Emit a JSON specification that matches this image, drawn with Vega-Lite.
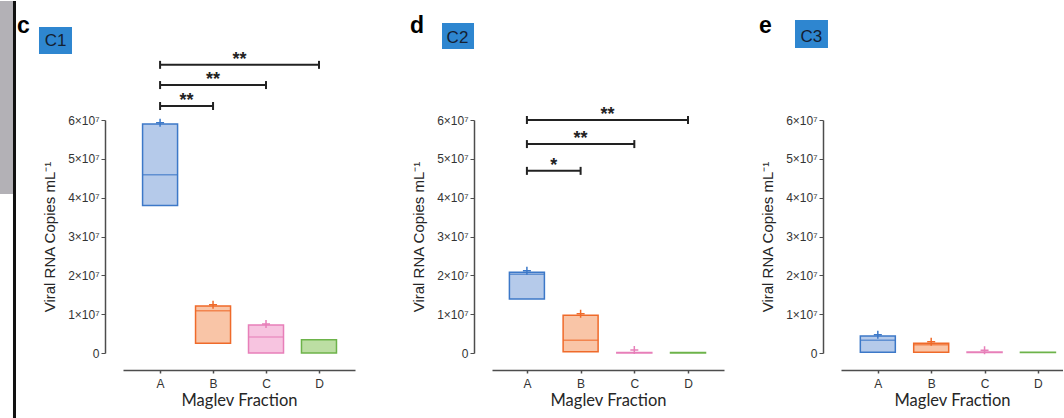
{
  "$schema": "https://vega.github.io/schema/vega-lite/v6.json",
  "padding": 0,
  "autosize": {"type": "pad"},
  "background": "#ffffff",
  "config": {
    "font": "Liberation Sans",
    "view": {"stroke": null},
    "scale": {"continuousPadding": 0},
    "axis": {"grid": false, "domainColor": "#4d4d4d", "tickColor": "#4d4d4d", "labelColor": "#333333", "titleColor": "#262626", "titleFontWeight": "normal"},
    "axisX": {"offset": 17, "domainWidth": 1.5, "tickWidth": 1.5, "tickSize": 3, "labelFontSize": 12, "labelPadding": 5, "labelAngle": 0, "titleFont": "Lato", "titleFontSize": 16.5, "titlePadding": 3},
    "axisY": {"offset": 18, "domainWidth": 1.5, "tickWidth": 1, "tickSize": 4, "labelFontSize": 12, "labelPadding": 2, "titleFontSize": 15, "titlePadding": 10}
  },
  "datasets": {
    "boxes": [
      {"panel": "C1", "frac": "A", "idx": 1, "lo": 38000000, "hi": 59000000, "med": 45900000, "top": 59300000},
      {"panel": "C1", "frac": "B", "idx": 2, "lo": 2500000, "hi": 12100000, "med": 10900000, "top": 12400000},
      {"panel": "C1", "frac": "C", "idx": 3, "lo": 0, "hi": 7200000, "med": 4100000, "top": 7500000},
      {"panel": "C1", "frac": "D", "idx": 4, "lo": 0, "hi": 3400000, "med": null, "top": null},
      {"panel": "C2", "frac": "A", "idx": 1, "lo": 13900000, "hi": 20800000, "med": 20300000, "top": 21200000},
      {"panel": "C2", "frac": "B", "idx": 2, "lo": 300000, "hi": 9700000, "med": 3300000, "top": 10100000},
      {"panel": "C2", "frac": "C", "idx": 3, "lo": 0, "hi": 150000, "med": null, "top": 800000},
      {"panel": "C2", "frac": "D", "idx": 4, "lo": 0, "hi": 150000, "med": null, "top": null},
      {"panel": "C3", "frac": "A", "idx": 1, "lo": 200000, "hi": 4400000, "med": 3300000, "top": 4700000},
      {"panel": "C3", "frac": "B", "idx": 2, "lo": 200000, "hi": 2500000, "med": 2100000, "top": 2900000},
      {"panel": "C3", "frac": "C", "idx": 3, "lo": 100000, "hi": 250000, "med": null, "top": 700000},
      {"panel": "C3", "frac": "D", "idx": 4, "lo": 100000, "hi": 200000, "med": null, "top": null}
    ],
    "brackets": [
      {"panel": "C1", "bid": 1, "from": 1, "to": 2, "y": 63600000, "label": "**"},
      {"panel": "C1", "bid": 2, "from": 1, "to": 3, "y": 69000000, "label": "**"},
      {"panel": "C1", "bid": 3, "from": 1, "to": 4, "y": 74200000, "label": "**"},
      {"panel": "C2", "bid": 1, "from": 1, "to": 2, "y": 46900000, "label": "*"},
      {"panel": "C2", "bid": 2, "from": 1, "to": 3, "y": 53800000, "label": "**"},
      {"panel": "C2", "bid": 3, "from": 1, "to": 4, "y": 60000000, "label": "**"}
    ]
  },
  "spacing": 35,
  "hconcat": [
    {
      "spacing": 54,
      "hconcat": [
        {
          "width": 232,
          "height": 233,
          "layer": [
            {
              "data": {"name": "boxes"},
              "transform": [{"filter": "datum.panel === 'C1'"}],
              "mark": {"type": "bar", "width": 35, "strokeWidth": 1.5},
              "encoding": {
                "x": {"field": "idx", "type": "quantitative", "scale": {"domain": [0.3, 4.68], "nice": false, "zero": false}, "axis": {"values": [1, 2, 3, 4], "labelExpr": "['A','B','C','D'][datum.value - 1]", "title": "Maglev Fraction"}},
                "y": {"field": "lo", "type": "quantitative", "scale": {"domain": [0, 60000000], "nice": false}, "axis": {"values": [0, 10000000, 20000000, 30000000, 40000000, 50000000, 60000000], "labelExpr": "datum.value == 0 ? '0' : format(datum.value / 10000000, 'd') + '×10⁷'", "title": "Viral RNA Copies mL⁻¹"}},
                "y2": {"field": "hi"},
                "fill": {"field": "frac", "type": "nominal", "scale": {"domain": ["A", "B", "C", "D"], "range": ["#b5caea", "#f9c5a7", "#f7c4e0", "#bcdea3"]}, "legend": null},
                "stroke": {"field": "frac", "type": "nominal", "scale": {"domain": ["A", "B", "C", "D"], "range": ["#3c78c8", "#ef6a2a", "#e77fb9", "#6db34a"]}, "legend": null}
              }
            },
            {
              "data": {"name": "boxes"},
              "transform": [{"filter": "datum.panel === 'C1'"}],
              "mark": {"type": "tick", "orient": "horizontal", "size": 35, "thickness": 1.5},
              "encoding": {
                "x": {"field": "idx", "type": "quantitative", "scale": {"domain": [0.3, 4.68], "nice": false, "zero": false}, "axis": {"values": [1, 2, 3, 4], "labelExpr": "['A','B','C','D'][datum.value - 1]", "title": "Maglev Fraction"}},
                "y": {"field": "med", "type": "quantitative", "scale": {"domain": [0, 60000000], "nice": false}, "axis": {"values": [0, 10000000, 20000000, 30000000, 40000000, 50000000, 60000000], "labelExpr": "datum.value == 0 ? '0' : format(datum.value / 10000000, 'd') + '×10⁷'", "title": "Viral RNA Copies mL⁻¹"}},
                "color": {"field": "frac", "type": "nominal", "scale": {"domain": ["A", "B", "C", "D"], "range": ["#3c78c8", "#ef6a2a", "#e77fb9", "#6db34a"]}, "legend": null}
              }
            },
            {
              "data": {"name": "boxes"},
              "transform": [{"filter": "datum.panel === 'C1'"}],
              "mark": {"type": "point", "shape": "M-1,0H1M0,-1V1", "size": 64, "strokeWidth": 1.5, "filled": false, "opacity": 1},
              "encoding": {
                "x": {"field": "idx", "type": "quantitative", "scale": {"domain": [0.3, 4.68], "nice": false, "zero": false}, "axis": {"values": [1, 2, 3, 4], "labelExpr": "['A','B','C','D'][datum.value - 1]", "title": "Maglev Fraction"}},
                "y": {"field": "top", "type": "quantitative", "scale": {"domain": [0, 60000000], "nice": false}, "axis": {"values": [0, 10000000, 20000000, 30000000, 40000000, 50000000, 60000000], "labelExpr": "datum.value == 0 ? '0' : format(datum.value / 10000000, 'd') + '×10⁷'", "title": "Viral RNA Copies mL⁻¹"}},
                "color": {"field": "frac", "type": "nominal", "scale": {"domain": ["A", "B", "C", "D"], "range": ["#3c78c8", "#ef6a2a", "#e77fb9", "#6db34a"]}, "legend": null}
              }
            },
            {
              "data": {"name": "brackets"},
              "transform": [{"filter": "datum.panel === 'C1'"}],
              "mark": {"type": "rule", "strokeWidth": 2, "color": "#222222"},
              "encoding": {
                "x": {"field": "from", "type": "quantitative", "scale": {"domain": [0.3, 4.68], "nice": false, "zero": false}, "axis": {"values": [1, 2, 3, 4], "labelExpr": "['A','B','C','D'][datum.value - 1]", "title": "Maglev Fraction"}},
                "x2": {"field": "to"},
                "y": {"field": "y", "type": "quantitative", "scale": {"domain": [0, 60000000], "nice": false}, "axis": {"values": [0, 10000000, 20000000, 30000000, 40000000, 50000000, 60000000], "labelExpr": "datum.value == 0 ? '0' : format(datum.value / 10000000, 'd') + '×10⁷'", "title": "Viral RNA Copies mL⁻¹"}}
              }
            },
            {
              "data": {"name": "brackets"},
              "transform": [{"filter": "datum.panel === 'C1'"}, {"fold": ["from", "to"], "as": ["end", "pos"]}],
              "mark": {"type": "point", "shape": "M0,-1V1", "size": 64, "strokeWidth": 2, "filled": false, "opacity": 1, "color": "#222222"},
              "encoding": {
                "x": {"field": "pos", "type": "quantitative", "scale": {"domain": [0.3, 4.68], "nice": false, "zero": false}, "axis": {"values": [1, 2, 3, 4], "labelExpr": "['A','B','C','D'][datum.value - 1]", "title": "Maglev Fraction"}},
                "y": {"field": "y", "type": "quantitative", "scale": {"domain": [0, 60000000], "nice": false}, "axis": {"values": [0, 10000000, 20000000, 30000000, 40000000, 50000000, 60000000], "labelExpr": "datum.value == 0 ? '0' : format(datum.value / 10000000, 'd') + '×10⁷'", "title": "Viral RNA Copies mL⁻¹"}}
              }
            },
            {
              "data": {"name": "brackets"},
              "transform": [{"filter": "datum.panel === 'C1'"}, {"fold": ["from", "to"], "as": ["end", "pos"]}, {"aggregate": [{"op": "mean", "field": "pos", "as": "mid"}], "groupby": ["bid", "y", "label"]}],
              "mark": {"type": "text", "fontSize": 18, "fontWeight": "bold", "color": "#222222", "align": "center", "baseline": "alphabetic"},
              "encoding": {
                "x": {"field": "mid", "type": "quantitative", "scale": {"domain": [0.3, 4.68], "nice": false, "zero": false}, "axis": {"values": [1, 2, 3, 4], "labelExpr": "['A','B','C','D'][datum.value - 1]", "title": "Maglev Fraction"}},
                "y": {"field": "y", "type": "quantitative", "scale": {"domain": [0, 60000000], "nice": false}, "axis": {"values": [0, 10000000, 20000000, 30000000, 40000000, 50000000, 60000000], "labelExpr": "datum.value == 0 ? '0' : format(datum.value / 10000000, 'd') + '×10⁷'", "title": "Viral RNA Copies mL⁻¹"}},
                "text": {"field": "label"}
              }
            },
            {
              "data": {"values": [{"letter": "c", "tag": "C1"}]},
              "layer": [
                {
                  "mark": {"type": "rect", "color": "#b3b1b6"},
                  "encoding": {
                    "x": {"datum": -2.022, "type": "quantitative", "scale": {"domain": [0.3, 4.68], "nice": false, "zero": false}, "axis": {"values": [1, 2, 3, 4], "labelExpr": "['A','B','C','D'][datum.value - 1]", "title": "Maglev Fraction"}},
                    "x2": {"datum": -1.777},
                    "y": {"datum": 90650000, "type": "quantitative", "scale": {"domain": [0, 60000000], "nice": false}, "axis": {"values": [0, 10000000, 20000000, 30000000, 40000000, 50000000, 60000000], "labelExpr": "datum.value == 0 ? '0' : format(datum.value / 10000000, 'd') + '×10⁷'", "title": "Viral RNA Copies mL⁻¹"}},
                    "y2": {"datum": 40950000}
                  }
                },
                {
                  "mark": {"type": "rect", "color": "#111111"},
                  "encoding": {
                    "x": {"datum": -1.777, "type": "quantitative", "scale": {"domain": [0.3, 4.68], "nice": false, "zero": false}, "axis": {"values": [1, 2, 3, 4], "labelExpr": "['A','B','C','D'][datum.value - 1]", "title": "Maglev Fraction"}},
                    "x2": {"datum": -1.72},
                    "y": {"datum": 90650000, "type": "quantitative", "scale": {"domain": [0, 60000000], "nice": false}, "axis": {"values": [0, 10000000, 20000000, 30000000, 40000000, 50000000, 60000000], "labelExpr": "datum.value == 0 ? '0' : format(datum.value / 10000000, 'd') + '×10⁷'", "title": "Viral RNA Copies mL⁻¹"}},
                    "y2": {"datum": -16990000}
                  }
                },
                {
                  "mark": {"type": "rect", "color": "#2e86d0"},
                  "encoding": {
                    "x": {"datum": -1.286, "type": "quantitative", "scale": {"domain": [0.3, 4.68], "nice": false, "zero": false}, "axis": {"values": [1, 2, 3, 4], "labelExpr": "['A','B','C','D'][datum.value - 1]", "title": "Maglev Fraction"}},
                    "x2": {"datum": -0.663},
                    "y": {"datum": 83950000, "type": "quantitative", "scale": {"domain": [0, 60000000], "nice": false}, "axis": {"values": [0, 10000000, 20000000, 30000000, 40000000, 50000000, 60000000], "labelExpr": "datum.value == 0 ? '0' : format(datum.value / 10000000, 'd') + '×10⁷'", "title": "Viral RNA Copies mL⁻¹"}},
                    "y2": {"datum": 77000000}
                  }
                },
                {
                  "mark": {"type": "text", "fontSize": 17, "color": "#142032", "align": "center", "baseline": "alphabetic"},
                  "encoding": {
                    "x": {"datum": -0.974, "type": "quantitative", "scale": {"domain": [0.3, 4.68], "nice": false, "zero": false}, "axis": {"values": [1, 2, 3, 4], "labelExpr": "['A','B','C','D'][datum.value - 1]", "title": "Maglev Fraction"}},
                    "y": {"datum": 79060000, "type": "quantitative", "scale": {"domain": [0, 60000000], "nice": false}, "axis": {"values": [0, 10000000, 20000000, 30000000, 40000000, 50000000, 60000000], "labelExpr": "datum.value == 0 ? '0' : format(datum.value / 10000000, 'd') + '×10⁷'", "title": "Viral RNA Copies mL⁻¹"}},
                    "text": {"field": "tag"}
                  }
                },
                {
                  "mark": {"type": "text", "fontSize": 23, "fontWeight": "bold", "color": "#000000", "align": "left", "baseline": "alphabetic"},
                  "encoding": {
                    "x": {"datum": -1.701, "type": "quantitative", "scale": {"domain": [0.3, 4.68], "nice": false, "zero": false}, "axis": {"values": [1, 2, 3, 4], "labelExpr": "['A','B','C','D'][datum.value - 1]", "title": "Maglev Fraction"}},
                    "y": {"datum": 82400000, "type": "quantitative", "scale": {"domain": [0, 60000000], "nice": false}, "axis": {"values": [0, 10000000, 20000000, 30000000, 40000000, 50000000, 60000000], "labelExpr": "datum.value == 0 ? '0' : format(datum.value / 10000000, 'd') + '×10⁷'", "title": "Viral RNA Copies mL⁻¹"}},
                    "text": {"field": "letter"}
                  }
                }
              ]
            }
          ]
        },
        {
          "width": 232,
          "height": 233,
          "layer": [
            {
              "data": {"name": "boxes"},
              "transform": [{"filter": "datum.panel === 'C2'"}],
              "mark": {"type": "bar", "width": 35, "strokeWidth": 1.5},
              "encoding": {
                "x": {"field": "idx", "type": "quantitative", "scale": {"domain": [0.35, 4.67], "nice": false, "zero": false}, "axis": {"values": [1, 2, 3, 4], "labelExpr": "['A','B','C','D'][datum.value - 1]", "title": "Maglev Fraction"}},
                "y": {"field": "lo", "type": "quantitative", "scale": {"domain": [0, 60000000], "nice": false}, "axis": {"values": [0, 10000000, 20000000, 30000000, 40000000, 50000000, 60000000], "labelExpr": "datum.value == 0 ? '0' : format(datum.value / 10000000, 'd') + '×10⁷'", "title": "Viral RNA Copies mL⁻¹"}},
                "y2": {"field": "hi"},
                "fill": {"field": "frac", "type": "nominal", "scale": {"domain": ["A", "B", "C", "D"], "range": ["#b5caea", "#f9c5a7", "#f7c4e0", "#bcdea3"]}, "legend": null},
                "stroke": {"field": "frac", "type": "nominal", "scale": {"domain": ["A", "B", "C", "D"], "range": ["#3c78c8", "#ef6a2a", "#e77fb9", "#6db34a"]}, "legend": null}
              }
            },
            {
              "data": {"name": "boxes"},
              "transform": [{"filter": "datum.panel === 'C2'"}],
              "mark": {"type": "tick", "orient": "horizontal", "size": 35, "thickness": 1.5},
              "encoding": {
                "x": {"field": "idx", "type": "quantitative", "scale": {"domain": [0.35, 4.67], "nice": false, "zero": false}, "axis": {"values": [1, 2, 3, 4], "labelExpr": "['A','B','C','D'][datum.value - 1]", "title": "Maglev Fraction"}},
                "y": {"field": "med", "type": "quantitative", "scale": {"domain": [0, 60000000], "nice": false}, "axis": {"values": [0, 10000000, 20000000, 30000000, 40000000, 50000000, 60000000], "labelExpr": "datum.value == 0 ? '0' : format(datum.value / 10000000, 'd') + '×10⁷'", "title": "Viral RNA Copies mL⁻¹"}},
                "color": {"field": "frac", "type": "nominal", "scale": {"domain": ["A", "B", "C", "D"], "range": ["#3c78c8", "#ef6a2a", "#e77fb9", "#6db34a"]}, "legend": null}
              }
            },
            {
              "data": {"name": "boxes"},
              "transform": [{"filter": "datum.panel === 'C2'"}],
              "mark": {"type": "point", "shape": "M-1,0H1M0,-1V1", "size": 64, "strokeWidth": 1.5, "filled": false, "opacity": 1},
              "encoding": {
                "x": {"field": "idx", "type": "quantitative", "scale": {"domain": [0.35, 4.67], "nice": false, "zero": false}, "axis": {"values": [1, 2, 3, 4], "labelExpr": "['A','B','C','D'][datum.value - 1]", "title": "Maglev Fraction"}},
                "y": {"field": "top", "type": "quantitative", "scale": {"domain": [0, 60000000], "nice": false}, "axis": {"values": [0, 10000000, 20000000, 30000000, 40000000, 50000000, 60000000], "labelExpr": "datum.value == 0 ? '0' : format(datum.value / 10000000, 'd') + '×10⁷'", "title": "Viral RNA Copies mL⁻¹"}},
                "color": {"field": "frac", "type": "nominal", "scale": {"domain": ["A", "B", "C", "D"], "range": ["#3c78c8", "#ef6a2a", "#e77fb9", "#6db34a"]}, "legend": null}
              }
            },
            {
              "data": {"name": "brackets"},
              "transform": [{"filter": "datum.panel === 'C2'"}],
              "mark": {"type": "rule", "strokeWidth": 2, "color": "#222222"},
              "encoding": {
                "x": {"field": "from", "type": "quantitative", "scale": {"domain": [0.35, 4.67], "nice": false, "zero": false}, "axis": {"values": [1, 2, 3, 4], "labelExpr": "['A','B','C','D'][datum.value - 1]", "title": "Maglev Fraction"}},
                "x2": {"field": "to"},
                "y": {"field": "y", "type": "quantitative", "scale": {"domain": [0, 60000000], "nice": false}, "axis": {"values": [0, 10000000, 20000000, 30000000, 40000000, 50000000, 60000000], "labelExpr": "datum.value == 0 ? '0' : format(datum.value / 10000000, 'd') + '×10⁷'", "title": "Viral RNA Copies mL⁻¹"}}
              }
            },
            {
              "data": {"name": "brackets"},
              "transform": [{"filter": "datum.panel === 'C2'"}, {"fold": ["from", "to"], "as": ["end", "pos"]}],
              "mark": {"type": "point", "shape": "M0,-1V1", "size": 64, "strokeWidth": 2, "filled": false, "opacity": 1, "color": "#222222"},
              "encoding": {
                "x": {"field": "pos", "type": "quantitative", "scale": {"domain": [0.35, 4.67], "nice": false, "zero": false}, "axis": {"values": [1, 2, 3, 4], "labelExpr": "['A','B','C','D'][datum.value - 1]", "title": "Maglev Fraction"}},
                "y": {"field": "y", "type": "quantitative", "scale": {"domain": [0, 60000000], "nice": false}, "axis": {"values": [0, 10000000, 20000000, 30000000, 40000000, 50000000, 60000000], "labelExpr": "datum.value == 0 ? '0' : format(datum.value / 10000000, 'd') + '×10⁷'", "title": "Viral RNA Copies mL⁻¹"}}
              }
            },
            {
              "data": {"name": "brackets"},
              "transform": [{"filter": "datum.panel === 'C2'"}, {"fold": ["from", "to"], "as": ["end", "pos"]}, {"aggregate": [{"op": "mean", "field": "pos", "as": "mid"}], "groupby": ["bid", "y", "label"]}],
              "mark": {"type": "text", "fontSize": 18, "fontWeight": "bold", "color": "#222222", "align": "center", "baseline": "alphabetic"},
              "encoding": {
                "x": {"field": "mid", "type": "quantitative", "scale": {"domain": [0.35, 4.67], "nice": false, "zero": false}, "axis": {"values": [1, 2, 3, 4], "labelExpr": "['A','B','C','D'][datum.value - 1]", "title": "Maglev Fraction"}},
                "y": {"field": "y", "type": "quantitative", "scale": {"domain": [0, 60000000], "nice": false}, "axis": {"values": [0, 10000000, 20000000, 30000000, 40000000, 50000000, 60000000], "labelExpr": "datum.value == 0 ? '0' : format(datum.value / 10000000, 'd') + '×10⁷'", "title": "Viral RNA Copies mL⁻¹"}},
                "text": {"field": "label"}
              }
            },
            {
              "data": {"values": [{"letter": "d", "tag": "C2"}]},
              "layer": [
                {
                  "mark": {"type": "rect", "color": "#2e86d0"},
                  "encoding": {
                    "x": {"datum": -0.581, "type": "quantitative", "scale": {"domain": [0.35, 4.67], "nice": false, "zero": false}, "axis": {"values": [1, 2, 3, 4], "labelExpr": "['A','B','C','D'][datum.value - 1]", "title": "Maglev Fraction"}},
                    "x2": {"datum": 0.015},
                    "y": {"datum": 84980000, "type": "quantitative", "scale": {"domain": [0, 60000000], "nice": false}, "axis": {"values": [0, 10000000, 20000000, 30000000, 40000000, 50000000, 60000000], "labelExpr": "datum.value == 0 ? '0' : format(datum.value / 10000000, 'd') + '×10⁷'", "title": "Viral RNA Copies mL⁻¹"}},
                    "y2": {"datum": 78280000}
                  }
                },
                {
                  "mark": {"type": "text", "fontSize": 17, "color": "#142032", "align": "center", "baseline": "alphabetic"},
                  "encoding": {
                    "x": {"datum": -0.293, "type": "quantitative", "scale": {"domain": [0.35, 4.67], "nice": false, "zero": false}, "axis": {"values": [1, 2, 3, 4], "labelExpr": "['A','B','C','D'][datum.value - 1]", "title": "Maglev Fraction"}},
                    "y": {"datum": 79900000, "type": "quantitative", "scale": {"domain": [0, 60000000], "nice": false}, "axis": {"values": [0, 10000000, 20000000, 30000000, 40000000, 50000000, 60000000], "labelExpr": "datum.value == 0 ? '0' : format(datum.value / 10000000, 'd') + '×10⁷'", "title": "Viral RNA Copies mL⁻¹"}},
                    "text": {"field": "tag"}
                  }
                },
                {
                  "mark": {"type": "text", "fontSize": 23, "fontWeight": "bold", "color": "#000000", "align": "left", "baseline": "alphabetic"},
                  "encoding": {
                    "x": {"datum": -1.177, "type": "quantitative", "scale": {"domain": [0.35, 4.67], "nice": false, "zero": false}, "axis": {"values": [1, 2, 3, 4], "labelExpr": "['A','B','C','D'][datum.value - 1]", "title": "Maglev Fraction"}},
                    "y": {"datum": 82400000, "type": "quantitative", "scale": {"domain": [0, 60000000], "nice": false}, "axis": {"values": [0, 10000000, 20000000, 30000000, 40000000, 50000000, 60000000], "labelExpr": "datum.value == 0 ? '0' : format(datum.value / 10000000, 'd') + '×10⁷'", "title": "Viral RNA Copies mL⁻¹"}},
                    "text": {"field": "letter"}
                  }
                }
              ]
            }
          ]
        }
      ]
    },
    {
      "width": 222,
      "height": 233,
      "layer": [
        {
          "data": {"name": "boxes"},
          "transform": [{"filter": "datum.panel === 'C3'"}],
          "mark": {"type": "bar", "width": 35, "strokeWidth": 1.5},
          "encoding": {
            "x": {"field": "idx", "type": "quantitative", "scale": {"domain": [0.31, 4.47], "nice": false, "zero": false}, "axis": {"values": [1, 2, 3, 4], "labelExpr": "['A','B','C','D'][datum.value - 1]", "title": "Maglev Fraction"}},
            "y": {"field": "lo", "type": "quantitative", "scale": {"domain": [0, 60000000], "nice": false}, "axis": {"values": [0, 10000000, 20000000, 30000000, 40000000, 50000000, 60000000], "labelExpr": "datum.value == 0 ? '0' : format(datum.value / 10000000, 'd') + '×10⁷'", "title": "Viral RNA Copies mL⁻¹"}},
            "y2": {"field": "hi"},
            "fill": {"field": "frac", "type": "nominal", "scale": {"domain": ["A", "B", "C", "D"], "range": ["#b5caea", "#f9c5a7", "#f7c4e0", "#bcdea3"]}, "legend": null},
            "stroke": {"field": "frac", "type": "nominal", "scale": {"domain": ["A", "B", "C", "D"], "range": ["#3c78c8", "#ef6a2a", "#e77fb9", "#6db34a"]}, "legend": null}
          }
        },
        {
          "data": {"name": "boxes"},
          "transform": [{"filter": "datum.panel === 'C3'"}],
          "mark": {"type": "tick", "orient": "horizontal", "size": 35, "thickness": 1.5},
          "encoding": {
            "x": {"field": "idx", "type": "quantitative", "scale": {"domain": [0.31, 4.47], "nice": false, "zero": false}, "axis": {"values": [1, 2, 3, 4], "labelExpr": "['A','B','C','D'][datum.value - 1]", "title": "Maglev Fraction"}},
            "y": {"field": "med", "type": "quantitative", "scale": {"domain": [0, 60000000], "nice": false}, "axis": {"values": [0, 10000000, 20000000, 30000000, 40000000, 50000000, 60000000], "labelExpr": "datum.value == 0 ? '0' : format(datum.value / 10000000, 'd') + '×10⁷'", "title": "Viral RNA Copies mL⁻¹"}},
            "color": {"field": "frac", "type": "nominal", "scale": {"domain": ["A", "B", "C", "D"], "range": ["#3c78c8", "#ef6a2a", "#e77fb9", "#6db34a"]}, "legend": null}
          }
        },
        {
          "data": {"name": "boxes"},
          "transform": [{"filter": "datum.panel === 'C3'"}],
          "mark": {"type": "point", "shape": "M-1,0H1M0,-1V1", "size": 64, "strokeWidth": 1.5, "filled": false, "opacity": 1},
          "encoding": {
            "x": {"field": "idx", "type": "quantitative", "scale": {"domain": [0.31, 4.47], "nice": false, "zero": false}, "axis": {"values": [1, 2, 3, 4], "labelExpr": "['A','B','C','D'][datum.value - 1]", "title": "Maglev Fraction"}},
            "y": {"field": "top", "type": "quantitative", "scale": {"domain": [0, 60000000], "nice": false}, "axis": {"values": [0, 10000000, 20000000, 30000000, 40000000, 50000000, 60000000], "labelExpr": "datum.value == 0 ? '0' : format(datum.value / 10000000, 'd') + '×10⁷'", "title": "Viral RNA Copies mL⁻¹"}},
            "color": {"field": "frac", "type": "nominal", "scale": {"domain": ["A", "B", "C", "D"], "range": ["#3c78c8", "#ef6a2a", "#e77fb9", "#6db34a"]}, "legend": null}
          }
        },
        {
          "data": {"values": [{"letter": "e", "tag": "C3"}]},
          "layer": [
            {
              "mark": {"type": "rect", "color": "#2e86d0"},
              "encoding": {
                "x": {"datum": -0.552, "type": "quantitative", "scale": {"domain": [0.31, 4.47], "nice": false, "zero": false}, "axis": {"values": [1, 2, 3, 4], "labelExpr": "['A','B','C','D'][datum.value - 1]", "title": "Maglev Fraction"}},
                "x2": {"datum": 0.066},
                "y": {"datum": 85750000, "type": "quantitative", "scale": {"domain": [0, 60000000], "nice": false}, "axis": {"values": [0, 10000000, 20000000, 30000000, 40000000, 50000000, 60000000], "labelExpr": "datum.value == 0 ? '0' : format(datum.value / 10000000, 'd') + '×10⁷'", "title": "Viral RNA Copies mL⁻¹"}},
                "y2": {"datum": 78540000}
              }
            },
            {
              "mark": {"type": "text", "fontSize": 17, "color": "#142032", "align": "center", "baseline": "alphabetic"},
              "encoding": {
                "x": {"datum": -0.247, "type": "quantitative", "scale": {"domain": [0.31, 4.47], "nice": false, "zero": false}, "axis": {"values": [1, 2, 3, 4], "labelExpr": "['A','B','C','D'][datum.value - 1]", "title": "Maglev Fraction"}},
                "y": {"datum": 80170000, "type": "quantitative", "scale": {"domain": [0, 60000000], "nice": false}, "axis": {"values": [0, 10000000, 20000000, 30000000, 40000000, 50000000, 60000000], "labelExpr": "datum.value == 0 ? '0' : format(datum.value / 10000000, 'd') + '×10⁷'", "title": "Viral RNA Copies mL⁻¹"}},
                "text": {"field": "tag"}
              }
            },
            {
              "mark": {"type": "text", "fontSize": 23, "fontWeight": "bold", "color": "#000000", "align": "left", "baseline": "alphabetic"},
              "encoding": {
                "x": {"datum": -1.226, "type": "quantitative", "scale": {"domain": [0.31, 4.47], "nice": false, "zero": false}, "axis": {"values": [1, 2, 3, 4], "labelExpr": "['A','B','C','D'][datum.value - 1]", "title": "Maglev Fraction"}},
                "y": {"datum": 82400000, "type": "quantitative", "scale": {"domain": [0, 60000000], "nice": false}, "axis": {"values": [0, 10000000, 20000000, 30000000, 40000000, 50000000, 60000000], "labelExpr": "datum.value == 0 ? '0' : format(datum.value / 10000000, 'd') + '×10⁷'", "title": "Viral RNA Copies mL⁻¹"}},
                "text": {"field": "letter"}
              }
            }
          ]
        }
      ]
    }
  ]
}
